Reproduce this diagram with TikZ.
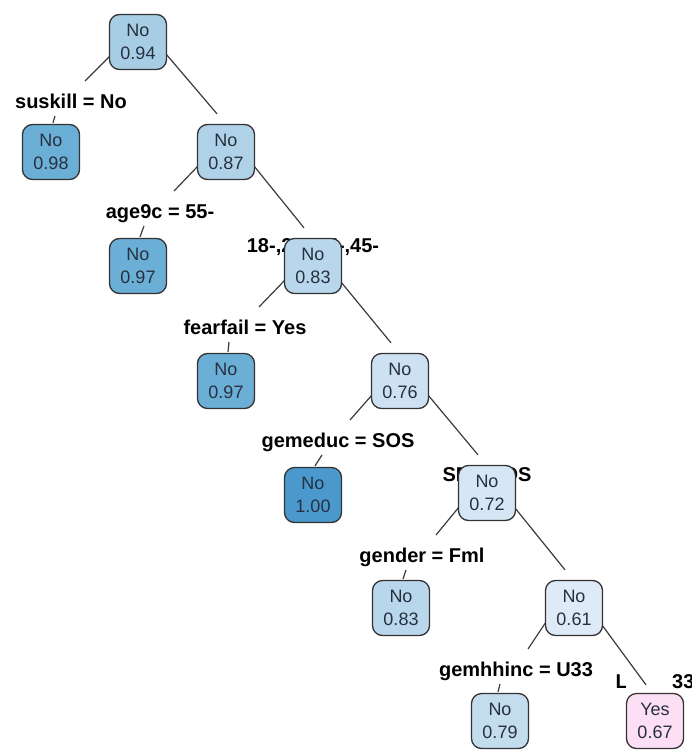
\documentclass[tikz,border=0pt]{standalone}
\usepackage{fontspec}
\setmainfont{Liberation Sans}
\usetikzlibrary{calc}
\pgfdeclarelayer{background}
\pgfsetlayers{background,main}
\definecolor{cA}{HTML}{A6CDE4}
\definecolor{cB}{HTML}{6BAED6}
\definecolor{cC}{HTML}{4B98CC}
\definecolor{cD}{HTML}{B0D2E8}
\definecolor{cE}{HTML}{B9D7EC}
\definecolor{cF}{HTML}{CDE1F2}
\definecolor{cG}{HTML}{D6E6F5}
\definecolor{cH}{HTML}{DEEBF7}
\definecolor{cI}{HTML}{C3DCEE}
\definecolor{cJ}{HTML}{FCDEF5}
\definecolor{boxline}{HTML}{333333}
\definecolor{linegray}{HTML}{3A3A3A}
\definecolor{nodetext}{HTML}{26303F}
\begin{document}
\begin{tikzpicture}[x=1pt,y=-1pt,
  box/.style={draw=boxline, line width=1.3pt, rounded corners=10pt,
    minimum width=57pt, minimum height=55pt, inner sep=0pt, align=center,
    font=\fontsize{18}{23}\selectfont, text=nodetext},
  lab/.style={font=\fontsize{20}{22}\selectfont\bfseries, text=black,
    inner sep=0pt, anchor=base},
  edge/.style={draw=linegray, line width=1.2pt}]
\useasboundingbox (0,0) rectangle (691,752);

% nodes
\node[box, fill=cA] (n1) at (138,42) {No\\0.94};
\node[box, fill=cB] (n2) at (51,152) {No\\0.98};
\node[box, fill=cD] (n3) at (226,152) {No\\0.87};
\node[box, fill=cB] (n6) at (138,266) {No\\0.97};
\node[box, fill=cE] (n7) at (313,266) {No\\0.83};
\node[box, fill=cB] (n14) at (226,381) {No\\0.97};
\node[box, fill=cF] (n15) at (400,381) {No\\0.76};
\node[box, fill=cC] (n30) at (313,495) {No\\1.00};
\node[box, fill=cG] (n31) at (487,493) {No\\0.72};
\node[box, fill=cE] (n62) at (401,608) {No\\0.83};
\node[box, fill=cH] (n63) at (574,608) {No\\0.61};
\node[box, fill=cI] (n126) at (500,721) {No\\0.79};
\node[box, fill=cJ] (n127) at (655,721) {Yes\\0.67};

% left split labels
\node[lab] (l1) at (71,108) {suskill = No};
\node[lab] (l2) at (160,218) {age9c = 55-};
\node[lab] (l3) at (245,334) {fearfail = Yes};
\node[lab] (l4) at (338,447) {gemeduc = SOS};
\node[lab] (l5) at (422,562) {gender = Fml};
\node[lab] (l6) at (516,676) {gemhhinc = U33};

\begin{pgfonlayer}{background}
% right split labels (partly hidden behind the child boxes)
\node[lab] (r2) at (313,252) {18-,25-,35-,45-};
\node[lab] (r4) at (487,481) {SED,POS};
\node[lab] (r6) at (655,688) {L33,M33};
\fill[white] (626,670) rectangle (671,694);

% left branches: parent -> label, label -> child
\draw[edge] ([shift={(-28,14)}]n1.center) -- ([shift={(14,-27)}]l1.base);
\draw[edge] ([shift={(-16,8)}]l1.base) -- ([shift={(2,-1)}]n2.north);
\draw[edge] ([shift={(-28,14)}]n3.center) -- ([shift={(14,-27)}]l2.base);
\draw[edge] ([shift={(-16,8)}]l2.base) -- ([shift={(2,-1)}]n6.north);
\draw[edge] ([shift={(-28,14)}]n7.center) -- ([shift={(14,-27)}]l3.base);
\draw[edge] ([shift={(-16,8)}]l3.base) -- ([shift={(2,-1)}]n14.north);
\draw[edge] ([shift={(-28,14)}]n15.center) -- ([shift={(12,-27)}]l4.base);
\draw[edge] ([shift={(-16,8)}]l4.base) -- ([shift={(2,-1)}]n30.north);
\draw[edge] ([shift={(-28,14)}]n31.center) -- ([shift={(14,-27)}]l5.base);
\draw[edge] ([shift={(-16,8)}]l5.base) -- ([shift={(2,-1)}]n62.north);
\draw[edge] ([shift={(-28,14)}]n63.center) -- ([shift={(12,-27)}]l6.base);
\draw[edge] ([shift={(-16,8)}]l6.base) -- ([shift={(-2,-1)}]n126.north);

% right branches
\draw[edge] ([shift={(28,12)}]n1.center) -- ([shift={(-9,-10)}]n3.north);
\draw[edge] ([shift={(28,14)}]n3.center) -- ([shift={(-9,-10)}]n7.north);
\draw[edge] ([shift={(28,16)}]n7.center) -- ([shift={(-9,-10)}]n15.north);
\draw[edge] ([shift={(28,14)}]n15.center) -- ([shift={(-9,-10)}]n31.north);
\draw[edge] ([shift={(28,15)}]n31.center) -- ([shift={(-9,-10)}]n63.north);
\draw[edge] ([shift={(28,17)}]n63.center) -- ([shift={(-9,-8)}]n127.north);
\end{pgfonlayer}
\end{tikzpicture}
\end{document}
